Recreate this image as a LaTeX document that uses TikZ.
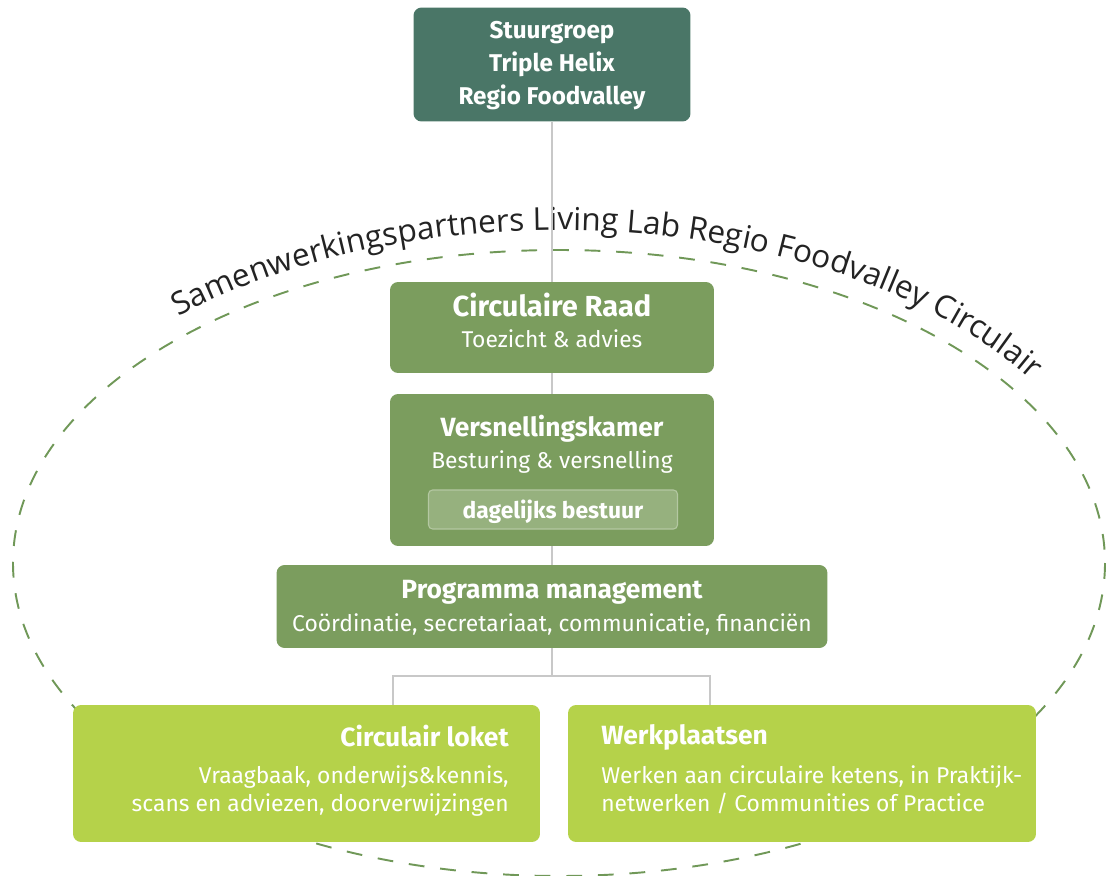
\documentclass[tikz,border=0pt]{standalone}
\usepackage{fontspec}
\setmainfont{Fira Sans}
\newfontfamily\handfont{Open Sans}
\usetikzlibrary{decorations.text}

\definecolor{stuurgreen}{RGB}{74,118,103}
\definecolor{midgreen}{RGB}{123,157,94}
\definecolor{innergreen}{RGB}{150,177,126}
\definecolor{innerline}{RGB}{180,200,162}
\definecolor{limegreen}{RGB}{181,210,74}
\definecolor{linegray}{RGB}{200,200,200}
\definecolor{dashgreen}{RGB}{112,152,88}
\definecolor{arcgray}{RGB}{35,35,35}

\begin{document}
\begin{tikzpicture}[x=0.02cm, y=-0.02cm,
    box/.style={rectangle, rounded corners=0.16cm, inner sep=0pt},
    title/.style={anchor=base, text=white, inner sep=0pt, font=\bfseries\fontsize{15}{18}\selectfont},
    sub/.style={anchor=base, text=white, inner sep=0pt, font=\fontsize{13}{15}\selectfont},
    conn/.style={draw=linegray, line width=1.2pt}]

  \useasboundingbox (0,0) rectangle (1107,876);

  % outer ring of partners
  \draw[dashgreen, line width=1.1pt, dash pattern=on 9pt off 9pt]
    (559,563) ellipse [x radius=546, y radius=313];
  \path[decorate, decoration={text along path, text color=arcgray, text align=center,
      text={|\handfont\fontsize{18}{22}\selectfont|Samenwerkingspartners Living Lab Regio Foodvalley Circulair}}]
    (559,563) ++(-137:566 and 333) arc[start angle=-137, end angle=-28, x radius=566, y radius=333];

  % boxes
  \node[box, fill=stuurgreen, minimum width=5.54cm, minimum height=2.28cm] (stuur) at (552,64.5) {};
  \node[box, fill=midgreen, minimum width=6.48cm, minimum height=1.82cm] (raad) at (552,327.5) {};
  \node[box, fill=midgreen, minimum width=6.48cm, minimum height=3.04cm] (vers) at (552,470) {};
  \node[box, fill=innergreen, draw=innerline, line width=0.6pt, rounded corners=0.08cm,
    minimum width=4.98cm, minimum height=0.78cm] (dag) at (553,509.5) {};
  \node[box, fill=midgreen, minimum width=11.02cm, minimum height=1.66cm] (prog) at (552,606.5) {};
  \node[box, fill=limegreen, minimum width=9.34cm, minimum height=2.74cm] (loket) at (306.5,773.5) {};
  \node[box, fill=limegreen, minimum width=9.36cm, minimum height=2.74cm] (werk) at (802,773.5) {};

  % texts
  \node[title, font=\bfseries\fontsize{13.8}{16}\selectfont] (stuurA) at (552,38) {Stuurgroep};
  \node[title, font=\bfseries\fontsize{13.8}{16}\selectfont] (stuurB) at (552,71) {Triple Helix};
  \node[title, font=\bfseries\fontsize{13.8}{16}\selectfont] (stuurC) at (552,104) {Regio Foodvalley};

  \node[title, font=\bfseries\fontsize{16.5}{19}\selectfont] (raadT) at (552,316) {Circulaire Raad};
  \node[sub] (raadS) at (552,347) {Toezicht \& advies};

  \node[title] (versT) at (552,436) {Versnellingskamer};
  \node[sub] (versS) at (552,468) {Besturing \& versnelling};
  \node[title, font=\bfseries\fontsize{13}{15}\selectfont] (dagT) at (553,518) {dagelijks bestuur};

  \node[title] (progT) at (552,598) {Programma management};
  \node[sub] (progS) at (552,631) {Coördinatie, secretariaat, communicatie, financiën};

  \node[title, anchor=base east] (loketT) at (509,746) {Circulair loket};
  \node[sub, anchor=base east] (loketA) at (509,783) {Vraagbaak, onderwijs\&kennis,};
  \node[sub, anchor=base east] (loketB) at (509,811) {scans en adviezen, doorverwijzingen};

  \node[title, anchor=base west] (werkT) at (601,744) {Werkplaatsen};
  \node[sub, anchor=base west] (werkA) at (601,783) {Werken aan circulaire ketens, in Praktijk-};
  \node[sub, anchor=base west] (werkB) at (601,811) {netwerken / Communities of Practice};

  % connectors
  \coordinate (fork) at (552,676);
  \coordinate (forkL) at (393,676);
  \coordinate (forkR) at (710,676);
  \draw[conn] (stuur.south) -- (raad.north);
  \draw[conn] (raad.south) -- (vers.north);
  \draw[conn] (vers.south) -- (prog.north);
  \draw[conn] (prog.south) -- (fork);
  \draw[conn] (loket.north -| forkL) |- (forkR) -- (werk.north -| forkR);
\end{tikzpicture}
\end{document}
